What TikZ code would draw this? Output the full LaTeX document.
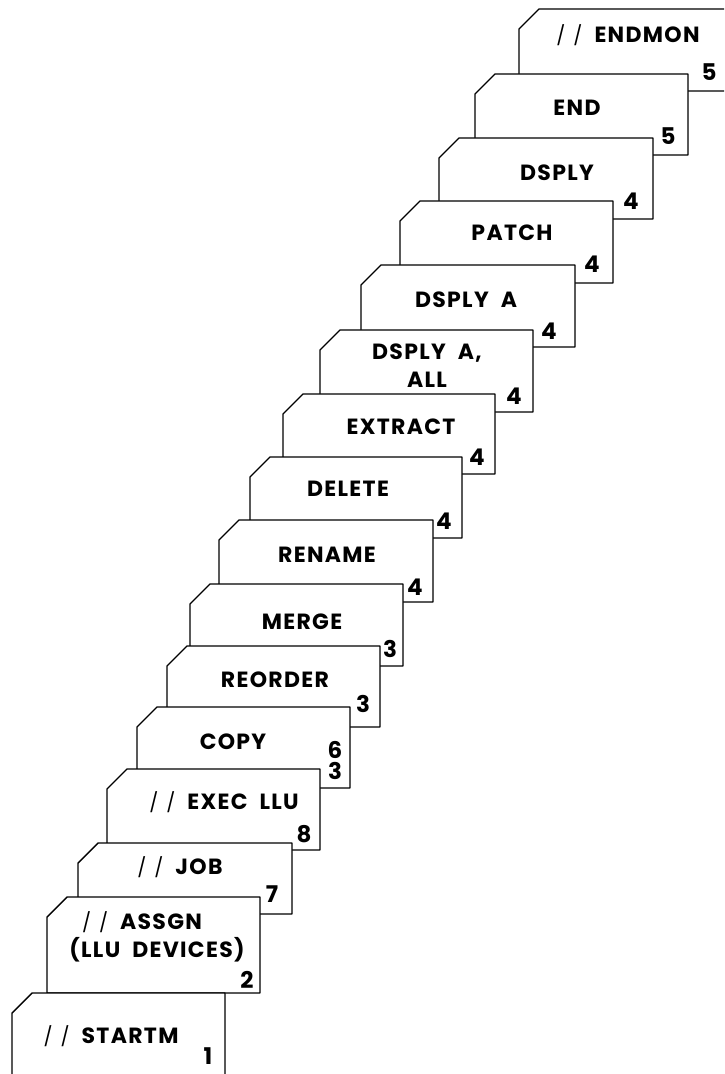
\documentclass[tikz,border=0pt]{standalone}
\usepackage{fontspec}
\setsansfont[LetterSpace=6]{Poppins}

\tikzset{
  tarjeta/.style={draw, fill=white, line width=0.7pt, line join=round},
  texto/.style={font=\sffamily\bfseries\fontsize{11}{14}\selectfont, align=center, inner sep=0pt},
  numero/.style={font=\sffamily\bfseries\fontsize{11.5}{10.5}\selectfont, align=center, inner sep=0pt}
}
\newcommand{\barras}{{\fontsize{9.5}{10}\selectfont\mdseries/\hspace{4pt}/}\hspace{6pt}}

\begin{document}
\begin{tikzpicture}[x=0.5pt, y=-0.5pt]
    \useasboundingbox (0,0) rectangle (724,1074);
    \clip (0,0) rectangle (724,1074);

    %Las tarjetas se pintan de atras hacia adelante
    % para que cada una tape a la anterior

    %Tarjeta ENDMON (fuera del borde derecho)
    \filldraw[tarjeta] (519,29) -- (539,9) -- (733,9) -- (733,91) -- (519,91) -- cycle;
    \node[texto] (endmon) at (628,35) {\barras ENDMON};
    \node[numero] (n-endmon) at (709,72) {5};

    %Tarjeta END
    \filldraw[tarjeta] (475,94) -- (495,74) -- (688,74) -- (688,155) -- (475,155) -- cycle;
    \node[texto] (fin) at (577,108) {END};
    \node[numero] (n-fin) at (668,136) {5};

    %Tarjeta DSPLY
    \filldraw[tarjeta] (439,158) -- (459,138) -- (653,138) -- (653,219) -- (439,219) -- cycle;
    \node[texto] (dsply) at (557,173) {DSPLY};
    \node[numero] (n-dsply) at (631,201) {4};

    %Tarjeta PATCH
    \filldraw[tarjeta] (400,221) -- (420,201) -- (613,201) -- (613,283) -- (400,283) -- cycle;
    \node[texto] (patch) at (512,233) {PATCH};
    \node[numero] (n-patch) at (592,264) {4};

    %Tarjeta DSPLY A
    \filldraw[tarjeta] (361,285) -- (381,265) -- (575,265) -- (575,347) -- (361,347) -- cycle;
    \node[texto] (dsplya) at (466,300) {DSPLY\hspace{3pt} A};
    \node[numero] (n-dsplya) at (549,331) {4};

    %Tarjeta DSPLY A, ALL
    \filldraw[tarjeta] (320,350) -- (340,330) -- (533,330) -- (533,412) -- (320,412) -- cycle;
    \node[texto] (dsplyall) at (427,366) {DSPLY\hspace{3pt} A,\\ALL};
    \node[numero] (n-dsplyall) at (514,396) {4};

    %Tarjeta EXTRACT
    \filldraw[tarjeta] (283,414) -- (303,394) -- (495,394) -- (495,474) -- (283,474) -- cycle;
    \node[texto] (extract) at (401,427) {EXTRACT};
    \node[numero] (n-extract) at (477,457) {4};

    %Tarjeta DELETE
    \filldraw[tarjeta] (250,477) -- (270,457) -- (462,457) -- (462,538) -- (250,538) -- cycle;
    \node[texto] (delete) at (348,489) {DELETE};
    \node[numero] (n-delete) at (444,521) {4};

    %Tarjeta RENAME
    \filldraw[tarjeta] (219,540) -- (239,520) -- (433,520) -- (433,602) -- (219,602) -- cycle;
    \node[texto] (rename) at (327,555) {RENAME};
    \node[numero] (n-rename) at (415,587) {4};

    %Tarjeta MERGE
    \filldraw[tarjeta] (190,604) -- (210,584) -- (403,584) -- (403,666) -- (190,666) -- cycle;
    \node[texto] (merge) at (302,622) {MERGE};
    \node[numero] (n-merge) at (390,649) {3};

    %Tarjeta REORDER
    \filldraw[tarjeta] (167,666) -- (187,646) -- (380,646) -- (380,727) -- (167,727) -- cycle;
    \node[texto] (reorder) at (275,680) {REORDER};
    \node[numero] (n-reorder) at (363,704) {3};

    %Tarjeta COPY
    \filldraw[tarjeta] (137,727) -- (157,707) -- (350,707) -- (350,788) -- (137,788) -- cycle;
    \node[texto] (copy) at (233,742) {COPY};
    \node[numero] (n-copy) at (335,760) {6\\3};

    %Tarjeta EXEC LLU
    \filldraw[tarjeta] (107,789) -- (127,769) -- (320,769) -- (320,850) -- (107,850) -- cycle;
    \node[texto] (exec) at (224,802) {\barras EXEC\hspace{3pt} LLU};
    \node[numero] (n-exec) at (304,834) {8};

    %Tarjeta JOB
    \filldraw[tarjeta] (78,863) -- (98,843) -- (292,843) -- (292,914) -- (78,914) -- cycle;
    \node[texto] (job) at (180,867) {\barras JOB};
    \node[numero] (n-job) at (272,894) {7};

    %Tarjeta ASSGN
    \filldraw[tarjeta] (47,917) -- (67,897) -- (260,897) -- (260,993) -- (47,993) -- cycle;
    \node[texto] (assgn) at (157,937) {\barras ASSGN\hspace*{15pt}\\(LLU\hspace{3pt} DEVICES)};
    \node[numero] (n-assgn) at (247,980) {2};

    %Tarjeta STARTM (la de adelante)
    \filldraw[tarjeta] (12,1013) -- (32,993) -- (225,993) -- (225,1090) -- (12,1090) -- cycle;
    \node[texto] (startm) at (111,1036) {\barras STARTM};
    \node[numero] (n-startm) at (208,1056) {1};
\end{tikzpicture}
\end{document}
